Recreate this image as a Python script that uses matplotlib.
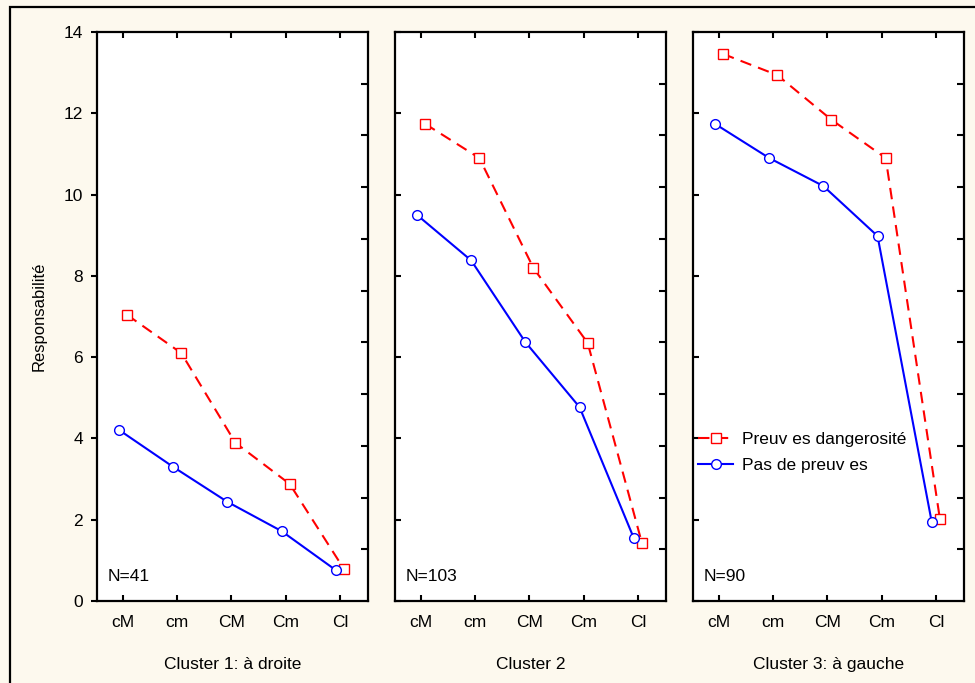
import numpy as np
import matplotlib
matplotlib.use("Agg")
import matplotlib.pyplot as plt
from matplotlib.patches import Rectangle

plt.rcParams["font.family"] = ["Liberation Sans", "DejaVu Sans"]

# data
categories = ["cM", "cm", "CM", "Cm", "Cl"]
cluster_titles = ["Cluster 1: à droite", "Cluster 2", "Cluster 3: à gauche"]
n_labels = ["N=41", "N=103", "N=90"]

preuves_c1 = [7.04, 6.10, 3.89, 2.88, 0.79]
pas_c1 = [4.21, 3.30, 2.44, 1.72, 0.76]
preuves_c2 = [11.74, 10.90, 8.19, 6.35, 1.43]
pas_c2 = [9.50, 8.38, 6.37, 4.77, 1.55]
preuves_c3 = [13.46, 12.94, 11.84, 10.90, 2.02]
pas_c3 = [11.74, 10.90, 10.21, 8.98, 1.94]

preuves = [preuves_c1, preuves_c2, preuves_c3]
pas = [pas_c1, pas_c2, pas_c3]

bg = "#fdf9ee"
W, H = 975, 683
fs = 12.5
fig = plt.figure(figsize=(9.75, 6.83), dpi=100, facecolor=bg)

# outer frame
fig.patches.append(Rectangle((10 / W, -0.05), 1.2, (H - 7) / H + 0.05, transform=fig.transFigure,
                             fill=False, edgecolor="black", linewidth=1.6, zorder=0))

lefts = [97, 395, 693]
x = np.arange(len(categories))
off = 0.075

for i in range(3):
    ax = fig.add_axes([lefts[i] / W, (H - 601) / H, 271 / W, 569 / H])
    ax.set_facecolor("white")
    ax.plot(x + off, preuves[i], color="red", ls=(0, (5.5, 3.5)), lw=1.5, marker="s", ms=7,
            mfc="white", mec="red", mew=1.0, label="Preuv es dangerosité")
    ax.plot(x - off, pas[i], color="blue", ls="-", lw=1.5, marker="o", ms=7,
            mfc="white", mec="blue", mew=1.0, label="Pas de preuv es")
    ax.set_xlim(-0.48, 4.52)
    ax.set_ylim(0, 14)
    ax.set_xticks(x)
    ax.set_xticklabels(categories, fontsize=fs)
    ax.set_yticks(np.arange(0, 15, 2))
    for sp in ax.spines.values():
        sp.set_linewidth(1.6)
    ax.tick_params(axis="x", direction="in", top=True, bottom=True, length=4, width=1.5, pad=10)
    if i == 0:
        ax.tick_params(axis="y", direction="out", left=True, right=False, length=4, width=1.5,
                       labelsize=fs, pad=6)
    else:
        ax.tick_params(axis="y", direction="in", left=True, right=False, length=4, width=1.5,
                       labelleft=False)
    # right side ticks
    ax.set_yticks(np.linspace(0, 14, 12), minor=True)
    ax.tick_params(axis="y", which="minor", direction="in", left=False, right=True,
                   length=5, width=1.5)
    ax.text(0.04, 0.03, n_labels[i], transform=ax.transAxes, fontsize=fs, ha="left", va="bottom")
    ax.text(0.5, -0.111, cluster_titles[i], transform=ax.transAxes, fontsize=fs, ha="center", va="center")
    if i == 2:
        ax.legend(loc="upper left", bbox_to_anchor=(0.02, 0.297), frameon=False, fontsize=fs,
                  handlelength=2.0, handletextpad=0.5, labelspacing=0.62, borderaxespad=0.0,
                  borderpad=0.0)

fig.text(39 / W, (H - 316) / H, "Responsabilité", rotation=90, fontsize=12,
         ha="center", va="center")

fig.savefig("out.png", dpi=100, facecolor=bg)
